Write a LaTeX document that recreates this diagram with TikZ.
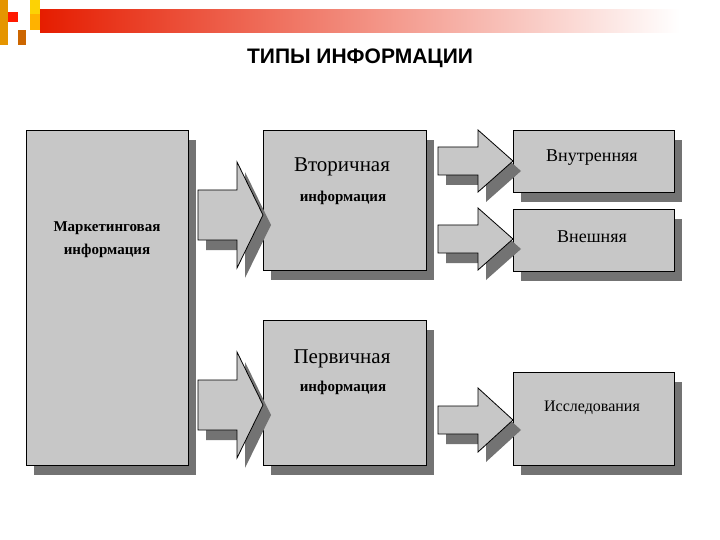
\documentclass[tikz,border=0pt]{standalone}
\usepackage{fontspec}
\setmainfont{Liberation Serif}
\newfontfamily\titlefont{Liberation Sans}
\begin{document}
\begin{tikzpicture}[x=1pt,y=-1pt,
  box/.style={draw=black,fill=black!22,line width=1pt},
  shad/.style={fill=black!55,draw=none},
  lbl/.style={align=center}]
\useasboundingbox (0,0) rectangle (720,540);
% header decoration
\shade[left color=red!75!orange!90!black, right color=white] (40,10) rectangle (680,33);
\fill[orange!70!yellow!90!black] (0,0) rectangle (8,45);
\fill[yellow!70!orange] (30,0) rectangle (40,14);
\fill[red!80!orange] (8,12) rectangle (18,22);
\fill[orange!80!black] (18,30) rectangle (26,45);
\fill[orange!60!yellow] (30,14) rectangle (40,30);
\node[font=\titlefont\bfseries\fontsize{21}{24}\selectfont] (title) at (360,58) {ТИПЫ ИНФОРМАЦИИ};
\newcommand{\blockarrow}[6]{%
  \fill[black!55] ({#1+8},{#4-#5+10}) -- ({#2+8},{#4-#5+10}) -- ({#2+8},{#4-#6+10}) -- ({#3+8},{#4+10}) -- ({#2+8},{#4+#6+10}) -- ({#2+8},{#4+#5+10}) -- ({#1+8},{#4+#5+10}) -- cycle;
  \draw[fill=black!22,line width=0.8pt] (#1,{#4-#5}) -- (#2,{#4-#5}) -- (#2,{#4-#6}) -- (#3,#4) -- (#2,{#4+#6}) -- (#2,{#4+#5}) -- (#1,{#4+#5}) -- cycle;}
% shadows
\fill[shad] (34,140) rectangle (196,475);
\fill[shad] (271,140) rectangle (434,280);
\fill[shad] (271,330) rectangle (434,475);
\fill[shad] (521,140) rectangle (682,202);
\fill[shad] (521,219) rectangle (682,281);
\fill[shad] (521,382) rectangle (682,475);
% boxes
\node[box,minimum width=162pt,minimum height=335pt,anchor=north west,inner sep=0] (mk) at (26,130) {};
\node[box,minimum width=163pt,minimum height=140pt,anchor=north west,inner sep=0] (vt) at (263,130) {};
\node[box,minimum width=163pt,minimum height=145pt,anchor=north west,inner sep=0] (pv) at (263,320) {};
\node[box,minimum width=161pt,minimum height=62pt,anchor=north west,inner sep=0] (vn) at (513,130) {};
\node[box,minimum width=161pt,minimum height=62pt,anchor=north west,inner sep=0] (vs) at (513,209) {};
\node[box,minimum width=161pt,minimum height=93pt,anchor=north west,inner sep=0] (is) at (513,372) {};
% labels
\node[lbl,font=\bfseries\fontsize{15}{23}\selectfont] (mkt) at (107,240) {Маркетинговая\\информация};
\node[lbl,font=\fontsize{21}{24}\selectfont] (vt1) at (342,167) {Вторичная};
\node[lbl,font=\bfseries\fontsize{15}{18}\selectfont] (vt2) at (343,198) {информация};
\node[lbl,font=\fontsize{21}{24}\selectfont] (pv1) at (342,359) {Первичная};
\node[lbl,font=\bfseries\fontsize{15}{18}\selectfont] (pv2) at (343,388) {информация};
\node[lbl,font=\fontsize{18}{20}\selectfont] (vnt) at (592,158) {Внутренняя};
\node[lbl,font=\fontsize{18}{20}\selectfont] (vst) at (592,237) {Внешняя};
\node[lbl,font=\fontsize{16}{18}\selectfont] (ist) at (592,408) {Исследования};
% arrows
\blockarrow{198}{237}{263}{215}{25}{53}
\blockarrow{198}{237}{263}{405}{25}{53}
\blockarrow{438}{478}{513}{161}{14}{31}
\blockarrow{438}{478}{513}{239}{14}{31}
\blockarrow{438}{478}{513}{420}{14}{32}
\end{tikzpicture}
\end{document}
